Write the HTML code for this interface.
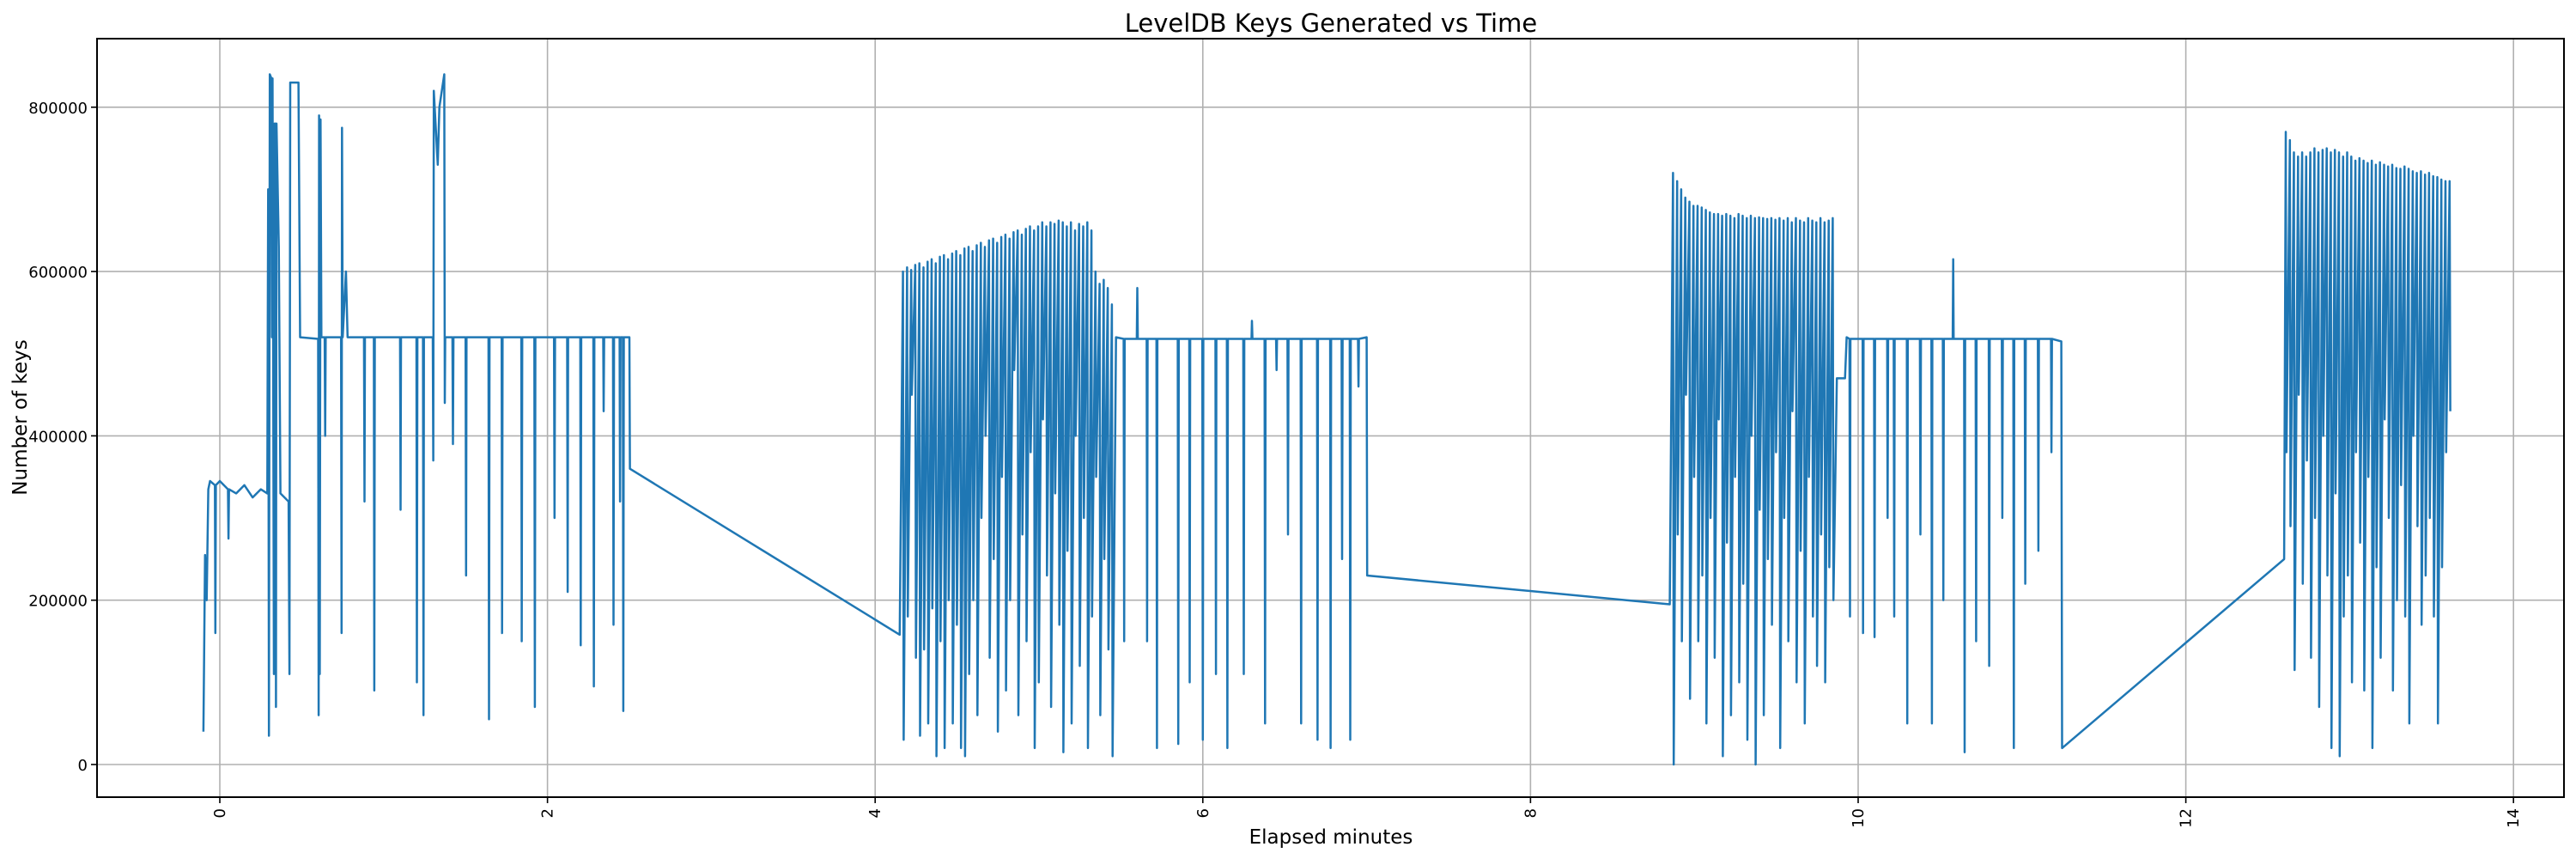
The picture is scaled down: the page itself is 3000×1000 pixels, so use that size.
<!DOCTYPE html>
<html><head><meta charset="utf-8"><style>
body{margin:0;background:#fff}
svg{display:block;font-family:"DejaVu Sans","Liberation Sans",sans-serif}
</style></head><body>
<svg id="chart" width="3000" height="1000" xmlns="http://www.w3.org/2000/svg">
<rect width="3000" height="1000" fill="#fff"/>
<g id="grid"></g>
<g id="series" clip-path="url(#clip)"></g>
<defs><clipPath id="clip"><rect x="113" y="45" width="2873" height="883"/></clipPath></defs>
<rect x="113" y="45" width="2873" height="883" fill="none" stroke="#000" stroke-width="2"/>
<g id="ticks"></g>
<text x="1550" y="37" font-size="29" text-anchor="middle">LevelDB Keys Generated vs Time</text>
<text x="1550" y="982" font-size="23" text-anchor="middle">Elapsed minutes</text>
<text transform="translate(31,486) rotate(-90)" font-size="23" text-anchor="middle">Number of keys</text>
</svg>
<script>
const xTicks=[0,2,4,6,8,10,12,14];
const yTicks=[0,200000,400000,600000,800000];
// segment 1 (explicit points, thousands of keys)
const times1=[-0.1,-0.09,-0.08,-0.07,-0.06,-0.03,-0.027,-0.024,0,0.05,0.053,0.056,0.1,0.15,0.2,0.25,0.29,0.295,0.3,0.305,0.315,0.318,0.322,0.33,0.334,0.34,0.343,0.346,0.36,0.37,0.42,0.425,0.43,0.48,0.49,0.6,0.603,0.606,0.61,0.615,0.62,0.64,0.643,0.646,0.74,0.743,0.746,0.75,0.77,0.78,0.88,0.883,0.886,0.94,0.943,0.946,1.1,1.103,1.106,1.2,1.203,1.206,1.24,1.243,1.246,1.3,1.303,1.306,1.33,1.34,1.37,1.373,1.376,1.42,1.423,1.426,1.5,1.503,1.506,1.64,1.643,1.646,1.72,1.723,1.726,1.84,1.843,1.846,1.92,1.923,1.926,2.04,2.043,2.046,2.12,2.123,2.126,2.2,2.203,2.206,2.28,2.283,2.286,2.34,2.343,2.346,2.4,2.403,2.406,2.44,2.443,2.446,2.46,2.463,2.466,2.5,2.503];
const keys1=[40,255,200,335,345,340,160,340,345,335,275,335,330,340,325,335,330,700,35,840,835,520,835,110,780,780,70,780,630,330,320,110,830,830,520,518,60,790,110,785,520,520,400,520,520,160,775,520,600,520,520,320,520,520,90,520,520,310,520,520,100,520,520,60,520,520,370,820,730,800,840,440,520,520,390,520,520,230,520,520,55,520,520,160,520,520,150,520,520,70,520,520,300,520,520,210,520,520,145,520,520,95,520,520,430,520,520,170,520,520,320,520,520,65,520,520,360];
// segment 2 dense burst (starts 4.17, one spike per 0.025 min)
const highs2=[600,605,602,608,610,605,612,615,610,618,620,615,622,625,620,628,630,625,632,635,630,638,640,635,642,645,640,648,650,645,652,655,650,655,660,655,660,658,662,660,655,660,650,658,655,660,650,600,585,590,580,560];
const lows2=[30,180,450,130,35,140,50,190,10,150,20,200,50,170,20,10,110,200,60,300,400,130,250,40,350,90,200,480,60,280,150,380,20,100,420,230,70,330,170,15,260,50,400,120,300,20,180,350,60,250,140,10];
const dropTimes2=[5.52,5.6,5.66,5.72,5.85,5.92,6.0,6.08,6.15,6.25,6.3,6.38,6.45,6.52,6.6,6.7,6.78,6.85,6.9,6.95];
const dropKeys2=[150,580,150,20,25,100,30,110,20,110,540,50,480,280,50,30,20,250,30,460];
// segment 3
const highs3=[720,710,700,690,685,680,680,678,675,672,670,670,668,670,668,665,670,668,665,668,665,666,665,664,665,663,665,662,665,660,665,662,660,665,662,660,665,660,662,665];
const lows3=[0,280,150,450,80,350,150,230,50,300,130,420,10,270,60,350,100,220,30,400,0,310,60,250,170,380,20,300,150,430,100,260,50,350,180,120,280,100,240,200];
const dropTimes3=[9.95,10.03,10.1,10.18,10.22,10.3,10.38,10.45,10.52,10.58,10.65,10.72,10.8,10.88,10.95,11.02,11.1,11.18];
const dropKeys3=[180,160,155,300,180,50,280,50,200,615,15,150,120,300,20,220,260,380];
// segment 4
const highs4=[770,760,745,740,745,740,745,750,745,748,750,745,748,745,740,745,740,735,738,735,732,735,730,733,730,728,730,726,725,728,725,722,720,722,718,720,716,715,712,710,710];
const lows4=[380,290,115,450,220,370,130,300,70,400,230,20,330,10,180,230,100,380,270,90,350,20,240,130,420,300,90,200,340,180,50,400,290,170,230,300,180,50,240,380,430];

const X=t=>256+t*190.8;
const Y=v=>890-v/200000*191.3;
const pts=[];
function add(t,k){pts.push([t,k]);}
times1.forEach((t,i)=>add(t,keys1[i]));
add(4.15,158);
function burst(t0,hs,ls){hs.forEach((h,i)=>{const t=t0+i*0.025;add(t,h);add(t+0.004,ls[i]);});}
function plateau(ts,ks,base){ts.forEach((t,i)=>{add(t-0.003,base);add(t,ks[i]);add(t+0.003,base);});}
burst(4.17,highs2,lows2);
add(5.47,520);
plateau(dropTimes2,dropKeys2,518);
add(7.0,520);add(7.003,230);
add(8.85,195);
burst(8.87,highs3,lows3);
add(9.87,470);add(9.92,470);add(9.93,520);
plateau(dropTimes3,dropKeys3,518);
add(11.24,515);add(11.245,20);
add(12.6,250);
burst(12.61,highs4,lows4);

const NS="http://www.w3.org/2000/svg";
const grid=document.getElementById('grid'),tk=document.getElementById('ticks');
xTicks.forEach(t=>{
 const l=document.createElementNS(NS,'line');
 
 
 l.setAttribute('x1',X(t));l.setAttribute('x2',X(t));l.setAttribute('y1',45);l.setAttribute('y2',928);
 l.setAttribute('stroke','#b0b0b0');l.setAttribute('stroke-width','1.6');grid.appendChild(l);
 const m=document.createElementNS(NS,'line');
 
 
 m.setAttribute('x1',X(t));m.setAttribute('x2',X(t));m.setAttribute('y1',928);m.setAttribute('y2',935);
 m.setAttribute('stroke','#000');m.setAttribute('stroke-width','1.6');tk.appendChild(m);
 const s=document.createElementNS(NS,'text');
 
 
 s.setAttribute('transform','translate('+(X(t)+6)+',941) rotate(-90)');
 s.setAttribute('font-size','18');s.setAttribute('text-anchor','end');s.textContent=t;tk.appendChild(s);
});
yTicks.forEach(v=>{
 const l=document.createElementNS(NS,'line');
 
 
 l.setAttribute('x1',113);l.setAttribute('x2',2986);l.setAttribute('y1',Y(v));l.setAttribute('y2',Y(v));
 l.setAttribute('stroke','#b0b0b0');l.setAttribute('stroke-width','1.6');grid.appendChild(l);
 const m=document.createElementNS(NS,'line');
 
 
 m.setAttribute('x1',106);m.setAttribute('x2',113);m.setAttribute('y1',Y(v));m.setAttribute('y2',Y(v));
 m.setAttribute('stroke','#000');m.setAttribute('stroke-width','1.6');tk.appendChild(m);
 const s=document.createElementNS(NS,'text');
 
 
 s.setAttribute('x',102);s.setAttribute('y',Y(v)+7);
 s.setAttribute('font-size','18');s.setAttribute('text-anchor','end');s.textContent=v;tk.appendChild(s);
});
const p=document.createElementNS(NS,'polyline');


p.setAttribute('points',pts.map(q=>X(q[0]).toFixed(1)+','+Y(q[1]*1000).toFixed(1)).join(' '));
p.setAttribute('fill','none');p.setAttribute('stroke','#1f77b4');p.setAttribute('stroke-width','2.5');p.setAttribute('stroke-linejoin','round');
document.getElementById('series').appendChild(p);
</script>
</body></html>
